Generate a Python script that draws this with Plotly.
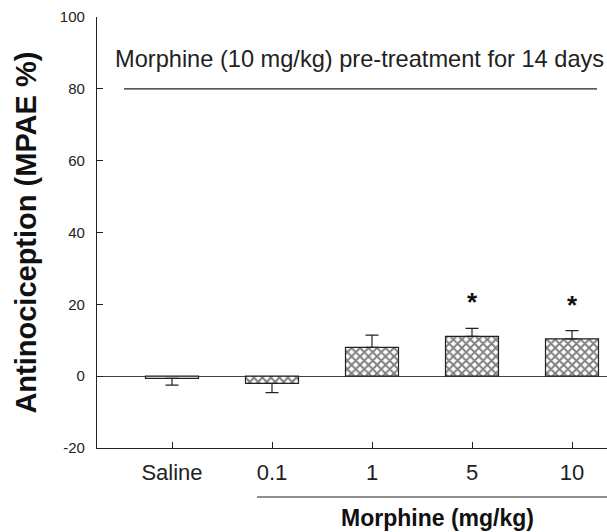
import plotly.graph_objects as go

categories = ["Saline", "0.1", "1", "5", "10"]
means = [-0.6, -2.0, 8.0, 11.1, 10.4]
sems = [1.9, 2.6, 3.4, 2.2, 2.3]
sig = ["", "", "", "*", "*"]
patterns = ["", "x", "x", "x", "x"]
y_ticks = [-20, 0, 20, 40, 60, 80, 100]
y_ticktext = ["-20", "0", "20", "40", "60", "80", "100"]

FONT = "Liberation Sans, Arial, sans-serif"
xpos = list(range(len(categories)))
err_plus = [s if m >= 0 else 0 for m, s in zip(means, sems)]
err_minus = [s if m < 0 else 0 for m, s in zip(means, sems)]

fig = go.Figure()
fig.add_trace(go.Bar(
    x=xpos, y=means, width=0.53,
    marker=dict(color="white",
                line=dict(color="#222", width=1.2),
                pattern=dict(shape=patterns, fgcolor="#000", bgcolor="white",
                             size=6, solidity=0.55)),
    error_y=dict(type="data", symmetric=False, array=err_plus,
                 arrayminus=err_minus, color="#222", thickness=1.2, width=6.5),
    showlegend=False,
))

for i, (m, s, t) in enumerate(zip(means, sems, sig)):
    if t:
        fig.add_annotation(x=i, y=m + s + 2.5, text="<b>" + t + "</b>",
                           showarrow=False, yanchor="bottom",
                           font=dict(family=FONT, size=26, color="#111"))

fig.add_annotation(x=-0.59, y=88.3, xref="x", yref="y", xanchor="left",
                   yanchor="middle", showarrow=False,
                   text="Morphine (10 mg/kg) pre-treatment for 14 days",
                   font=dict(family=FONT, size=23.6, color="#222"))
fig.add_shape(type="line", xref="x", yref="y", x0=-0.48, x1=4.25, y0=80, y1=80,
              line=dict(color="#222", width=1.2))

fig.add_shape(type="line", xref="x", yref="paper", x0=0.85, x1=4.4,
              y0=-0.1137, y1=-0.1137, line=dict(color="#222", width=1.2))
fig.add_annotation(x=2.65, y=-0.163, xref="x", yref="paper", showarrow=False,
                   xanchor="center", yanchor="middle",
                   text="<b>Morphine (mg/kg)</b>",
                   font=dict(family=FONT, size=23, color="#111"))

fig.add_annotation(x=-0.141, y=0.5, xref="paper", yref="paper",
                   showarrow=False, textangle=-90, xanchor="center",
                   yanchor="middle", text="<b>Antinociception (MPAE %)</b>",
                   font=dict(family=FONT, size=29, color="#111"))

fig.update_xaxes(range=[-0.75, 4.35], tickmode="array", tickvals=xpos,
                 ticktext=categories, showline=True, linecolor="#222",
                 linewidth=1.2, ticks="inside", ticklen=6, tickcolor="#222",
                 showgrid=False, zeroline=False, ticklabelstandoff=4,
                 tickfont=dict(family=FONT, size=22, color="#222"))
fig.update_yaxes(range=[-20, 100], tickmode="array", tickvals=y_ticks,
                 ticktext=y_ticktext,
                 showline=True, linecolor="#222", linewidth=1.2,
                 ticks="inside", ticklen=6, tickcolor="#222", showgrid=False,
                 zeroline=True, zerolinecolor="#444", zerolinewidth=1.2,
                 ticklabelstandoff=8,
                 tickfont=dict(family=FONT, size=15, color="#222"))

fig.update_layout(width=607, height=532, plot_bgcolor="white",
                  paper_bgcolor="white",
                  margin=dict(l=97, r=0, t=17, b=84, autoexpand=False),
                  bargap=0.47)

fig.write_html("out.html", config={"displayModeBar": False},
               post_script="document.body.style.margin='0';document.body.style.overflow='hidden';")
